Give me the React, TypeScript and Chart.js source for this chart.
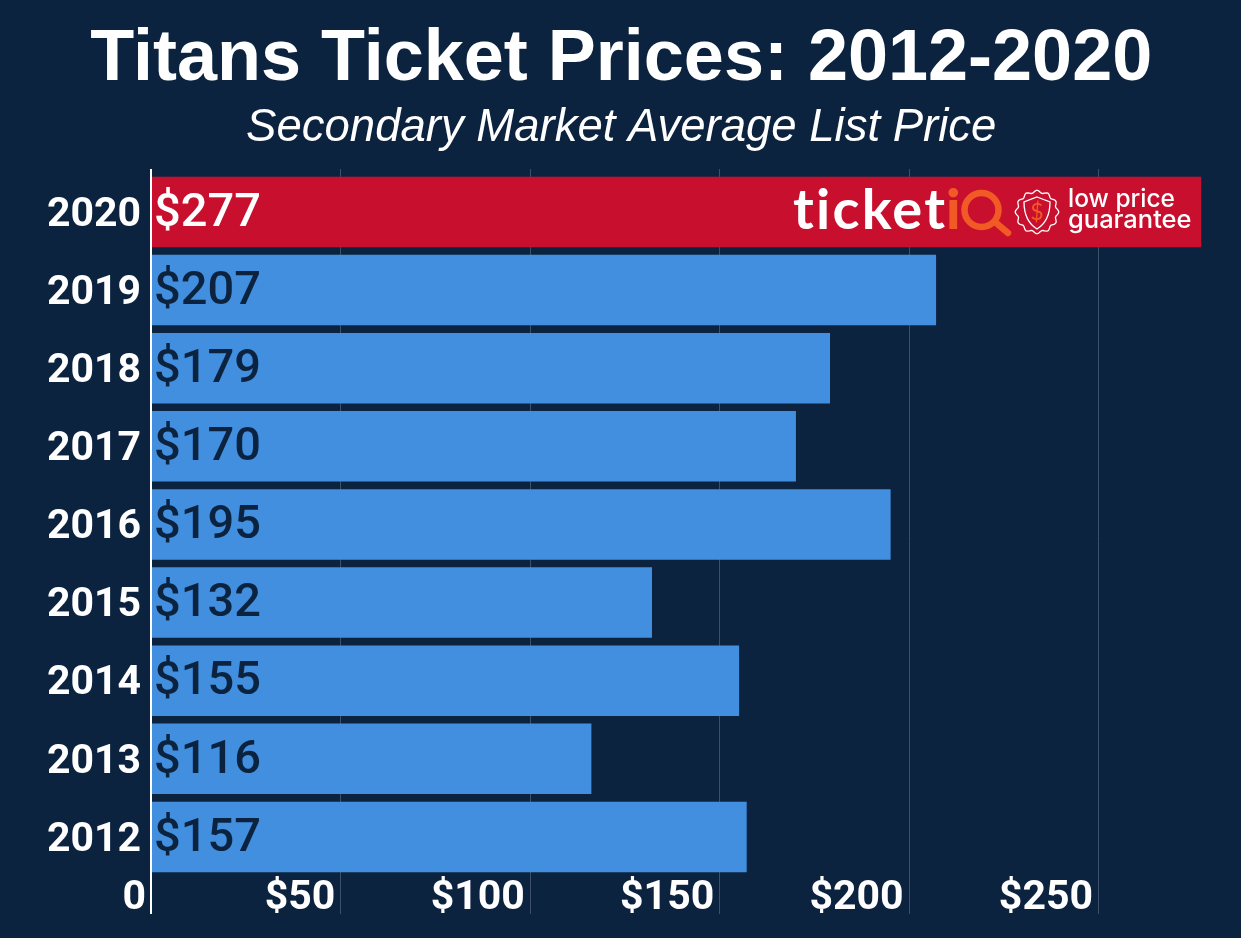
import React, { useEffect, useRef } from "react";
import { Chart, registerables } from "chart.js";

Chart.register(...registerables);

const years = ["2020", "2019", "2018", "2017", "2016", "2015", "2014", "2013", "2012"];
const prices = [277, 207, 179, 170, 195, 132, 155, 116, 157];
const titleText = "Titans Ticket Prices: 2012-2020";
const subtitleText = "Secondary Market Average List Price";

const NAVY = "#0C2340";
const BLUE = "#418FDE";
const RED = "#C8102E";
const GRID = "#3D4F69";
const ORANGE = "#F15A24";

const frame = {
  id: "frame",
  beforeDatasetsDraw(chart: any) {
    const { ctx } = chart;
    const x = chart.scales.x;
    ctx.save();
    ctx.strokeStyle = GRID;
    ctx.lineWidth = 1;
    x.ticks.forEach((t: any) => {
      if (t.value === 0) return;
      const px = Math.round(x.getPixelForValue(t.value) - 1) + 0.5;
      ctx.beginPath();
      ctx.moveTo(px, 169);
      ctx.lineTo(px, 914);
      ctx.stroke();
    });
    ctx.restore();
  },
  afterDatasetsDraw(chart: any) {
    const { ctx } = chart;
    const x = chart.scales.x;
    const y = chart.scales.y;
    ctx.save();
    ctx.fillStyle = "#FFFFFF";
    ctx.fillRect(150, 169, 2, 745);
    ctx.font = "500 47px Roboto";
    ctx.textAlign = "left";
    ctx.textBaseline = "middle";
    prices.forEach((v, i) => {
      ctx.fillStyle = i === 0 ? "#FFFFFF" : NAVY;
      ctx.fillText("$" + v, x.getPixelForValue(0) + 2, y.getPixelForValue(i) + 2);
    });
    drawLogo(ctx);
    ctx.restore();
  },
};

function drawLogo(ctx: any) {
  ctx.textAlign = "left";
  ctx.textBaseline = "alphabetic";
  ctx.fillStyle = "#FFFFFF";
  ctx.font = "700 56px Lato";
  ctx.letterSpacing = "2.2px";
  ctx.fillText("ticket", 793, 229);
  ctx.letterSpacing = "0px";
  ctx.fillStyle = ORANGE;
  ctx.font = "900 56px Lato";
  ctx.fillText("i", 946, 229);
  ctx.strokeStyle = ORANGE;
  ctx.lineWidth = 6.5;
  ctx.beginPath();
  ctx.arc(981.5, 210, 17, 0, Math.PI * 2);
  ctx.stroke();
  ctx.lineCap = "round";
  ctx.beginPath();
  ctx.moveTo(995, 222);
  ctx.lineTo(1008, 233);
  ctx.stroke();

  const cx = 1037;
  const cy = 212;
  ctx.strokeStyle = "#FFFFFF";
  ctx.lineWidth = 1.3;
  ctx.beginPath();
  for (let a = 0; a <= 360; a += 4) {
    const r = 20.5 + 1.3 * Math.cos((a * Math.PI * 12) / 180);
    const rad = (a * Math.PI) / 180;
    const px = cx + r * Math.cos(rad);
    const py = cy + r * Math.sin(rad);
    if (a === 0) ctx.moveTo(px, py);
    else ctx.lineTo(px, py);
  }
  ctx.closePath();
  ctx.stroke();
  ctx.beginPath();
  ctx.moveTo(cx, cy - 15);
  ctx.lineTo(cx + 13, cy - 10);
  ctx.bezierCurveTo(cx + 13, cy + 4, cx + 8, cy + 12, cx, cy + 17);
  ctx.bezierCurveTo(cx - 8, cy + 12, cx - 13, cy + 4, cx - 13, cy - 10);
  ctx.closePath();
  ctx.stroke();
  ctx.fillStyle = ORANGE;
  ctx.font = "400 23px Lato";
  ctx.textAlign = "center";
  ctx.fillText("$", cx, cy + 8);

  ctx.textAlign = "left";
  ctx.fillStyle = "#FFFFFF";
  ctx.font = "500 25.5px Inter";
  ctx.fillText("low price", 1068, 207, 107);
  ctx.fillText("guarantee", 1068, 228, 124);
}

export default function App() {
  const ref = useRef<HTMLCanvasElement>(null);

  useEffect(() => {
    document.body.style.margin = "0";
    document.body.style.background = NAVY;
    const chart = new Chart(ref.current as HTMLCanvasElement, {
      type: "bar",
      data: {
        labels: years,
        datasets: [
          {
            data: prices,
            backgroundColor: prices.map((_, i) => (i === 0 ? RED : BLUE)),
            borderWidth: 0,
            barPercentage: 0.903,
            categoryPercentage: 1,
          },
        ],
      },
      plugins: [frame],
      options: {
        indexAxis: "y",
        animation: false,
        responsive: false,
        layout: { padding: { top: 0, right: 0, bottom: 0, left: 1.5 } },
        plugins: {
          legend: { display: false },
          tooltip: { enabled: false },
          title: {
            display: true,
            text: titleText,
            color: "#FFFFFF",
            font: { family: "'Liberation Sans'", size: 72, weight: "bold", lineHeight: 1.1 },
            padding: { top: 21, bottom: 0 },
          },
          subtitle: {
            display: true,
            text: subtitleText,
            color: "#FFFFFF",
            font: { family: "'Liberation Sans'", size: 45.5, style: "italic", weight: "normal", lineHeight: 1.1 },
            padding: { top: 3, bottom: 19.6 },
          },
        },
        scales: {
          x: {
            type: "linear",
            position: "bottom",
            min: 0,
            max: 287.5,
            afterFit: (s: any) => {
              s.height = 62;
            },
            border: { display: false },
            grid: { display: false, drawTicks: false },
            ticks: {
              stepSize: 50,
              includeBounds: false,
              autoSkip: false,
              maxRotation: 0,
              minRotation: 0,
              align: "end",
              labelOffset: -6,
              padding: -2,
              color: "#FFFFFF",
              font: { family: "Roboto", size: 41, weight: "bold" },
              callback: (v: any) => (v === 0 ? "0" : "$" + v),
            },
          },
          y: {
            type: "category",
            afterFit: (s: any) => {
              s.width = 150.5;
            },
            border: { display: false },
            grid: { display: false, drawTicks: false },
            ticks: {
              padding: 11,
              labelOffset: 3.5,
              autoSkip: false,
              color: "#FFFFFF",
              font: { family: "Roboto", size: 41, weight: "bold" },
            },
          },
        },
      },
    } as any);
    return () => chart.destroy();
  }, []);

  return (
    <div style={{ width: 1241, height: 938, background: NAVY }}>
      <canvas ref={ref} width={1241} height={938} style={{ display: "block" }} />
    </div>
  );
}
